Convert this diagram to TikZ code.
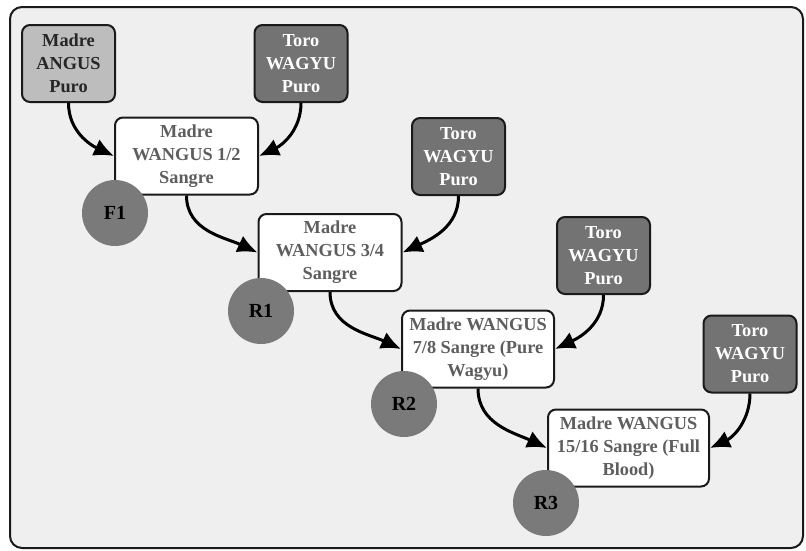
\documentclass[tikz,border=0pt]{standalone}
\usepackage{fontspec}
\setmainfont{Liberation Serif}
\usetikzlibrary{arrows.meta}
\definecolor{bgc}{HTML}{EFEFEF}
\definecolor{lightbox}{HTML}{BDBDBD}
\definecolor{darkbox}{HTML}{737373}
\definecolor{circc}{HTML}{7A7A7A}
\definecolor{graytext}{HTML}{5E5E5E}
\definecolor{edge}{HTML}{1A1A1A}
\tikzset{
  basebox/.style={draw=edge, line width=2pt, rounded corners=8pt, align=center, inner sep=2pt,
    font=\fontsize{18.3}{23}\selectfont\bfseries},
  mombox/.style={basebox, fill=lightbox, text=black!85, minimum width=93pt, minimum height=77pt},
  bullbox/.style={basebox, fill=darkbox, text=white, minimum width=93pt, minimum height=77pt},
  crossbox/.style={basebox, fill=white, text=graytext, minimum height=77pt},
  gen/.style={circle, fill=circc, minimum size=66pt, inner sep=0pt, text=black,
    font=\fontsize{20}{24}\selectfont\bfseries},
  flow/.style={draw=black, line width=3pt, -{Latex[length=20pt,width=18pt]}}
}
\begin{document}
\begin{tikzpicture}[x=1pt,y=1pt]
\useasboundingbox (0,0) rectangle (806,-550);
\draw[draw=edge, line width=2pt, fill=bgc, rounded corners=12pt] (10,-7) rectangle (803,-548);

\node[mombox] (A) at (68.5,-63.5) {Madre\\ANGUS\\Puro};
\node[bullbox] (T1) at (301,-63.5) {Toro\\WAGYU\\Puro};
\node[crossbox, minimum width=143pt] (W1) at (186.5,-156) {Madre\\WANGUS 1/2\\Sangre};
\node[bullbox] (T2) at (458.5,-156.5) {Toro\\WAGYU\\Puro};
\node[crossbox, minimum width=143pt] (W2) at (330,-252.5) {Madre\\WANGUS 3/4\\Sangre};
\node[bullbox] (T3) at (603.5,-255.5) {Toro\\WAGYU\\Puro};
\node[crossbox, minimum width=152pt] (W3) at (478,-349) {Madre WANGUS\\7/8 Sangre (Pure\\Wagyu)};
\node[bullbox] (T4) at (750,-354) {Toro\\WAGYU\\Puro};
\node[crossbox, minimum width=161pt] (W4) at (628.5,-448) {Madre WANGUS\\15/16 Sangre (Full\\Blood)};

\node[gen] (F1) at (115,-213) {F1};
\node[gen] (R1) at (261,-311) {R1};
\node[gen] (R2) at (404,-404) {R2};
\node[gen] (R3) at (546,-503) {R3};

\draw[flow] (A.south) to[out=-90, in=155] (W1.west);
\draw[flow] (T1.south) to[out=-90, in=25] (W1.east);
\draw[flow] (W1.south) to[out=-90, in=155] (W2.west);
\draw[flow] (T2.south) to[out=-90, in=25] (W2.east);
\draw[flow] (W2.south) to[out=-90, in=155] (W3.west);
\draw[flow] (T3.south) to[out=-90, in=25] (W3.east);
\draw[flow] (W3.south) to[out=-90, in=155] (W4.west);
\draw[flow] (T4.south) to[out=-90, in=25] (W4.east);
\end{tikzpicture}
\end{document}
